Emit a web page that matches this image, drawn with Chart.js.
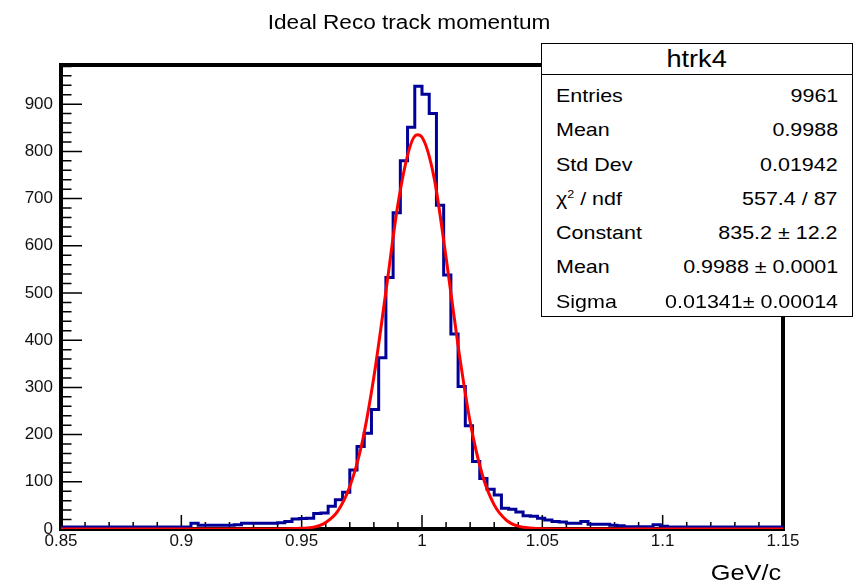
<!DOCTYPE html>
<html>
<head>
<meta charset="utf-8">
<title>Ideal Reco track momentum</title>
<script src="https://cdn.jsdelivr.net/npm/chart.js@4.4.0/dist/chart.umd.min.js"></script>
<style>
  html, body { margin: 0; padding: 0; background: #fff; }
  #wrap { position: relative; width: 854px; height: 587px; font-family: "Liberation Sans", Arial, sans-serif; color: #000; }
  #wrap canvas { position: absolute; left: 0; top: 0; }
  .wide { display: inline-block; transform: scaleX(1.13); white-space: nowrap; }
  #title { position: absolute; left: 0; width: 818px; top: 10px; text-align: center; font-size: 20px; line-height: 24px; }
  #title .wide { transform-origin: center; }
  #xtitle { position: absolute; right: 73px; top: 560px; font-size: 22px; line-height: 26px; }
  #xtitle .wide { transform: scaleX(1.15); transform-origin: right; }
  #stats { position: absolute; left: 541px; top: 43px; width: 310px; height: 272px; border: 1px solid #000; background: #fff; }
  #stats .head { height: 30px; border-bottom: 1px solid #000; text-align: center; font-size: 23px; line-height: 30px; }
  #stats .head .wide { transform: scaleX(1.18); transform-origin: center; }
  #stats .rows { padding-top: 4px; }
  #stats .row { display: flex; justify-content: space-between; height: 34.3px; line-height: 34px; font-size: 19px; padding: 0 14px; }
  #stats .row .lab { transform-origin: left; }
  #stats .row .val { transform-origin: right; }
  #stats sup { font-size: 11px; vertical-align: 7px; line-height: 0; }
</style>
</head>
<body>
<div id="wrap">
  <canvas id="chart" width="854" height="587"></canvas>
  <div id="title"><span class="wide">Ideal Reco track momentum</span></div>
  <div id="xtitle"><span class="wide">GeV/c</span></div>
  <div id="stats">
    <div class="head"><span class="wide">htrk4</span></div>
    <div class="rows">
      <div class="row"><span class="wide lab">Entries</span><span class="wide val">9961</span></div>
      <div class="row"><span class="wide lab">Mean</span><span class="wide val">0.9988</span></div>
      <div class="row"><span class="wide lab">Std Dev</span><span class="wide val">0.01942</span></div>
      <div class="row"><span class="wide lab">χ<sup>2</sup> / ndf</span><span class="wide val">557.4 / 87</span></div>
      <div class="row"><span class="wide lab">Constant</span><span class="wide val">835.2 ± 12.2</span></div>
      <div class="row"><span class="wide lab">Mean</span><span class="wide val">0.9988 ± 0.0001</span></div>
      <div class="row"><span class="wide lab">Sigma</span><span class="wide val">0.01341± 0.00014</span></div>
    </div>
  </div>
</div>
<script>
// histogram binning: 100 bins from 0.85 to 1.15
const binLow = 0.85;
const binWidth = 0.003;

// bin contents
const binCounts = [
  4, 4, 4, 4, 4, 4, 4, 4, 4, 4,
  4, 4, 4, 4, 4, 4, 4, 4, 12, 8,
  8, 8, 8, 8, 9, 12, 12, 12, 12, 12,
  13, 16, 21, 22, 23, 33, 34, 48, 62, 78,
  125, 175, 203, 253, 363, 533, 670, 780, 851, 938,
  921, 880, 686, 538, 413, 302, 219, 143, 107, 84,
  72, 44, 42, 36, 28, 27, 23, 19, 16, 15,
  12, 12, 16, 10, 10, 10, 8, 7, 5, 5,
  5, 5, 9, 6, 4, 4, 4, 4, 4, 4,
  4, 4, 4, 4, 4, 4, 4, 4, 4, 4
];

// gaussian fit curve
const fitX = [0.85, 0.93, 0.945, 0.95, 0.955, 0.96, 0.965, 0.97, 0.975, 0.98, 0.985, 0.99, 0.995, 0.998,
              1.0, 1.005, 1.01, 1.015, 1.02, 1.025, 1.03, 1.035, 1.04, 1.045, 1.05, 1.06, 1.15];
const fitY = [0, 0, 0.5, 1.5, 4, 14, 38, 90, 180, 322, 503, 688, 810, 835,
              830, 745, 575, 388, 227, 116, 51, 19, 6, 2, 0.5, 0, 0];

// axis ticks
const xTickValues = [0.85, 0.9, 0.95, 1, 1.05, 1.1, 1.15];
const xTickLabels = ['0.85', '0.9', '0.95', '1', '1.05', '1.1', '1.15'];
const yTickValues = [0, 100, 200, 300, 400, 500, 600, 700, 800, 900];
const yTickLabels = ['0', '100', '200', '300', '400', '500', '600', '700', '800', '900'];
const yMax = 983;

const histPoints = binCounts.map((c, i) => ({ x: binLow + i * binWidth, y: c }));
histPoints.push({ x: binLow + binCounts.length * binWidth, y: binCounts[binCounts.length - 1] });
const fitPoints = fitX.map((x, i) => ({ x: x, y: fitY[i] }));

// ROOT style frame with inward tick marks
const rootFrame = {
  id: 'rootFrame',
  beforeDatasetsDraw(chart) {
    const { ctx, chartArea: a, scales: { x, y } } = chart;
    ctx.save();
    ctx.strokeStyle = '#000';
    ctx.lineWidth = 1.5;
    ctx.beginPath();
    for (let k = 0; k <= 30; k++) {
      const px = x.getPixelForValue(0.85 + k * 0.01);
      const len = k % 5 === 0 ? 14 : 7;
      ctx.moveTo(px, a.bottom);
      ctx.lineTo(px, a.bottom - len);
    }
    for (let v = 0; v <= yMax; v += 20) {
      const py = y.getPixelForValue(v);
      const len = v % 100 === 0 ? 21 : 10.5;
      ctx.moveTo(a.left, py);
      ctx.lineTo(a.left + len, py);
    }
    ctx.stroke();
    ctx.lineWidth = 4;
    ctx.strokeRect(a.left, a.top, a.right - a.left, a.bottom - a.top);
    ctx.restore();
  }
};

const tickFont = { family: '"Liberation Sans", Arial, sans-serif', size: 17 };

new Chart(document.getElementById('chart').getContext('2d'), {
  type: 'line',
  data: {
    datasets: [
      {
        label: 'fit',
        data: fitPoints,
        borderColor: '#ff0000',
        borderWidth: 3,
        pointRadius: 0,
        cubicInterpolationMode: 'monotone',
        fill: false,
        order: 1
      },
      {
        label: 'htrk4',
        data: histPoints,
        borderColor: '#000099',
        borderWidth: 3,
        pointRadius: 0,
        stepped: 'before',
        fill: false,
        order: 2
      }
    ]
  },
  options: {
    responsive: false,
    animation: false,
    devicePixelRatio: 1,
    layout: { padding: { left: 0, top: 65, right: 71, bottom: 0 } },
    plugins: {
      legend: { display: false },
      tooltip: { enabled: false },
      title: { display: false }
    },
    scales: {
      x: {
        type: 'linear',
        min: 0.85,
        max: 1.15,
        grid: { display: false, drawTicks: false },
        border: { display: false },
        afterBuildTicks: (scale) => { scale.ticks = xTickValues.map(v => ({ value: v })); },
        afterFit: (scale) => { scale.height = 58; },
        ticks: {
          autoSkip: false,
          maxRotation: 0,
          padding: 2,
          color: '#111',
          font: tickFont,
          callback: (value, index) => xTickLabels[index]
        }
      },
      y: {
        type: 'linear',
        min: 0,
        max: yMax,
        grid: { display: false, drawTicks: false },
        border: { display: false },
        afterBuildTicks: (scale) => { scale.ticks = yTickValues.map(v => ({ value: v })); },
        afterFit: (scale) => { scale.width = 61; },
        ticks: {
          autoSkip: false,
          padding: 8,
          color: '#111',
          font: tickFont,
          callback: (value, index) => yTickLabels[index]
        }
      }
    }
  },
  plugins: [rootFrame]
});
</script>
</body>
</html>
